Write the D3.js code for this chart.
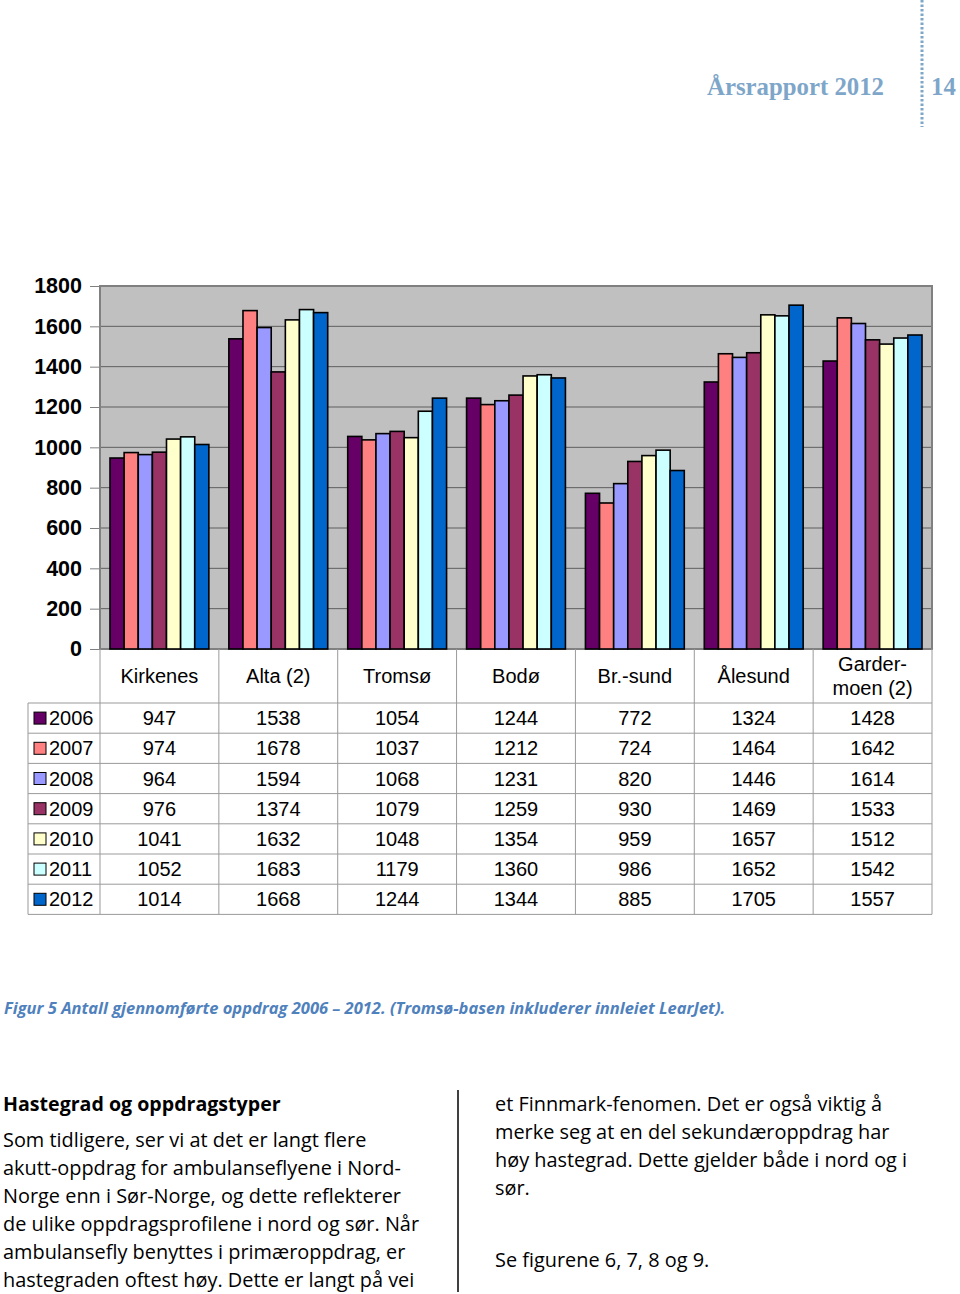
<!DOCTYPE html>
<html><head><meta charset="utf-8">
<script src="https://cdn.jsdelivr.net/npm/d3@7"></script>
<style>
body{margin:0;background:#fff;}
svg{display:block;}
</style></head>
<body>
<svg id="c" width="960" height="1294"></svg>
<script>
const categories = ["Kirkenes","Alta (2)","Tromsø","Bodø","Br.-sund","Ålesund","Garder-\nmoen (2)"];
const years = ["2006","2007","2008","2009","2010","2011","2012"];
const v2006 = [947,1538,1054,1244,772,1324,1428];
const v2007 = [974,1678,1037,1212,724,1464,1642];
const v2008 = [964,1594,1068,1231,820,1446,1614];
const v2009 = [976,1374,1079,1259,930,1469,1533];
const v2010 = [1041,1632,1048,1354,959,1657,1512];
const v2011 = [1052,1683,1179,1360,986,1652,1542];
const v2012 = [1014,1668,1244,1344,885,1705,1557];
const seriesValues = [v2006,v2007,v2008,v2009,v2010,v2011,v2012];
const colors = ["#660066","#ff8080","#9999ff","#993366","#ffffcc","#ccffff","#0066cc"];
const yTicks = [0,200,400,600,800,1000,1200,1400,1600,1800];

const svg = d3.select("#c");
const L = 100, R = 932, T = 286, B = 649;
const x = d3.scaleBand().domain(categories).range([L, R]);
const y = d3.scaleLinear().domain([0, 1800]).range([B, T]);
const xi = d3.scaleBand().domain(years).range([10, x.bandwidth() - 10]);

// header
svg.append("text").attr("x", 884).attr("y", 95).attr("text-anchor", "end")
  .attr("font-family", "Liberation Serif, DejaVu Serif, serif").attr("font-weight", "bold")
  .attr("font-size", 24.8).attr("fill", "#7ea6c9").text("Årsrapport 2012");
svg.append("line").attr("x1", 922).attr("x2", 922).attr("y1", 0).attr("y2", 127)
  .attr("stroke", "#7ea6c9").attr("stroke-width", 3).attr("stroke-dasharray", "2.5,2");
svg.append("text").attr("x", 931).attr("y", 95)
  .attr("font-family", "Liberation Serif, DejaVu Serif, serif").attr("font-weight", "bold")
  .attr("font-size", 24.8).attr("fill", "#7ea6c9").text("14");

// plot area
svg.append("rect").attr("x", L).attr("y", T).attr("width", R - L).attr("height", B - T)
  .attr("fill", "#c0c0c0");
svg.append("g").selectAll("line").data(yTicks.filter(d => d > 0)).join("line")
  .attr("x1", L).attr("x2", R).attr("y1", d => y(d)).attr("y2", d => y(d))
  .attr("stroke", "#5e5e5e").attr("stroke-width", 1);
svg.append("rect").attr("x", L).attr("y", T).attr("width", R - L).attr("height", B - T)
  .attr("fill", "none").attr("stroke", "#808080").attr("stroke-width", 2);

// y axis
const yAxis = d3.axisLeft(y).tickValues(yTicks).tickSize(10).tickPadding(8).tickFormat(d3.format("d"));
const ga = svg.append("g").attr("transform", `translate(${L},0)`).call(yAxis);
ga.select(".domain").attr("stroke", "#808080");
ga.selectAll(".tick line").attr("stroke", "#808080");
ga.selectAll(".tick text").attr("font-family", "Liberation Sans, Arial, sans-serif")
  .attr("font-weight", "bold").attr("font-size", 21.5).attr("fill", "#000");

// bars
const groups = svg.append("g").selectAll("g").data(categories).join("g")
  .attr("transform", d => `translate(${x(d)},0)`);
groups.selectAll("rect").data((c, ci) => years.map((yr, yi) => ({yr, yi, v: seriesValues[yi][ci]})))
  .join("rect")
  .attr("x", d => xi(d.yr)).attr("width", xi.bandwidth())
  .attr("y", d => y(d.v)).attr("height", d => B - y(d.v))
  .attr("fill", d => colors[d.yi]).attr("stroke", "#000").attr("stroke-width", 1.6);

// table
const rowTop = 703, rowH = 30.2;
const tg = svg.append("g");
const lineCol = "#9a9a9a";
categories.forEach(c => {
  const cx = x(c) + x.bandwidth() / 2;
  const lines = c.split("\n");
  const t = tg.append("text").attr("text-anchor", "middle")
    .attr("font-family", "Liberation Sans, Arial, sans-serif").attr("font-size", 20).attr("fill", "#000");
  if (lines.length === 1) {
    t.attr("x", cx).attr("y", 683).text(c);
  } else {
    t.append("tspan").attr("x", cx).attr("y", 671).text(lines[0]);
    t.append("tspan").attr("x", cx).attr("y", 695).text(lines[1]);
  }
});
[L, ...categories.map(c => x(c) + x.bandwidth())].forEach(xx => {
  tg.append("line").attr("x1", xx).attr("x2", xx).attr("y1", B).attr("y2", rowTop + rowH * 7)
    .attr("stroke", lineCol).attr("stroke-width", 1);
});
tg.append("line").attr("x1", 28).attr("x2", 28).attr("y1", rowTop).attr("y2", rowTop + rowH * 7)
  .attr("stroke", lineCol);
d3.range(8).forEach(i => {
  tg.append("line").attr("x1", 28).attr("x2", R).attr("y1", rowTop + i * rowH).attr("y2", rowTop + i * rowH)
    .attr("stroke", lineCol);
});
years.forEach((yr, yi) => {
  const cy = rowTop + yi * rowH + rowH / 2;
  tg.append("rect").attr("x", 34).attr("y", cy - 6).attr("width", 12).attr("height", 12)
    .attr("fill", colors[yi]).attr("stroke", "#000").attr("stroke-width", 1);
  tg.append("text").attr("x", 49).attr("y", cy + 7)
    .attr("font-family", "Liberation Sans, Arial, sans-serif").attr("font-size", 20).text(yr);
  categories.forEach((c, ci) => {
    tg.append("text").attr("x", x(c) + x.bandwidth() / 2).attr("y", cy + 7).attr("text-anchor", "middle")
      .attr("font-family", "Liberation Sans, Arial, sans-serif").attr("font-size", 20)
      .text(seriesValues[yi][ci]);
  });
});

// caption
svg.append("text").attr("x", 4).attr("y", 1014)
  .attr("font-family", "Open Sans, Lato, sans-serif").attr("font-style", "italic").attr("font-weight", "bold")
  .attr("font-size", 16.5).attr("fill", "#4f81bd")
  .text("Figur 5 Antall gjennomførte oppdrag 2006 – 2012. (Tromsø-basen inkluderer innleiet LearJet).");

// body text
const bodyFont = "Open Sans, Lato, sans-serif";
svg.append("text").attr("x", 3).attr("y", 1111).attr("font-family", bodyFont)
  .attr("font-weight", "bold").attr("font-size", 19.6).text("Hastegrad og oppdragstyper");
const leftLines = ["Som tidligere, ser vi at det er langt flere","akutt-oppdrag for ambulanseflyene i Nord-","Norge enn i Sør-Norge, og dette reflekterer","de ulike oppdragsprofilene i nord og sør. Når","ambulansefly benyttes i primæroppdrag, er","hastegraden oftest høy. Dette er langt på vei"];
leftLines.forEach((l, i) => svg.append("text").attr("x", 3).attr("y", 1147 + i * 28)
  .attr("font-family", bodyFont).attr("font-size", 19.9).text(l));
const rightLines = ["et Finnmark-fenomen. Det er også viktig å","merke seg at en del sekundæroppdrag har","høy hastegrad. Dette gjelder både i nord og i","sør.","","Se figurene 6, 7, 8 og 9."];
rightLines.forEach((l, i) => svg.append("text").attr("x", 495).attr("y", 1111 + i * 28 + (i === 5 ? 16 : 0))
  .attr("font-family", bodyFont).attr("font-size", 19.9).text(l));
svg.append("line").attr("x1", 458).attr("x2", 458).attr("y1", 1090).attr("y2", 1292)
  .attr("stroke", "#000").attr("stroke-width", 1.5);
</script>
</body></html>
